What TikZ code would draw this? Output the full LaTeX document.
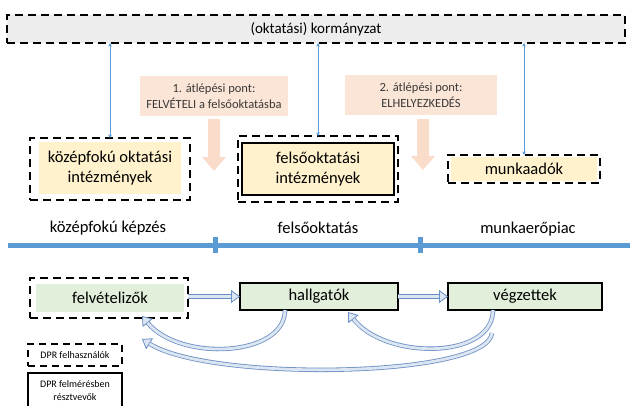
\documentclass[tikz,border=0pt]{standalone}
\usepackage{fontspec}
\setmainfont{Carlito}
\usetikzlibrary{arrows.meta,calc}

\definecolor{szurke}{HTML}{EDEDED}
\definecolor{sarga}{HTML}{FFF2CC}
\definecolor{zold}{HTML}{E2EFDA}
\definecolor{barack}{HTML}{FBE5D6}
\definecolor{barackny}{HTML}{F9DCCA}
\definecolor{szoveg}{HTML}{3A3A3A}
\definecolor{kek}{HTML}{5B9BD5}
\definecolor{nyilkek}{HTML}{6A8FC4}
\definecolor{nyilvil}{HTML}{DCE6F2}

\tikzset{
  dbox/.style={draw=black, line width=2.2pt, dash pattern=on 8pt off 5pt},
  sbox/.style={draw=black, line width=2pt},
  felirat/.style={font=\fontsize{16.5}{20}\selectfont, text=black},
  pont/.style={fill=barack, font=\fontsize{12.5}{15.5}\selectfont, text=szoveg,
    align=center, minimum height=40},
  vekony/.style={draw=kek, line width=0.6pt,
    {Stealth[length=3.5pt,width=3.5pt]}-{Stealth[length=3.5pt,width=3.5pt]}},
  ures/.style={draw=nyilkek, line width=4.4pt,
    -{Triangle[length=9pt,width=13pt,line width=0.8pt,fill=nyilvil]},
    postaction={draw=nyilvil, line width=2.8pt, -, shorten >=9pt}},
  lecke/.style={fill=barackny}
}

\begin{document}
\begin{tikzpicture}[x=1pt, y=-1pt,
    every node/.style={inner sep=0pt, outer sep=0pt}]
  \useasboundingbox (0,0) rectangle (630,405);

  % felso sav
  \node[dbox, fill=szurke, font=\fontsize{15}{18}\selectfont,
    minimum width=618, minimum height=28]
    (korm) at (316,29) {(oktatási) kormányzat};

  % atlepesi pontok
  \node[pont, minimum width=148] (pont1) at (214,96)
    {1. átlépési pont:\\FELVÉTELI a felsőoktatásba};
  \node[pont, minimum width=152] (pont2) at (421,95)
    {2. átlépési pont:\\ELHELYEZKEDÉS};
  \fill[lecke] ($(pont1.south)+(-6,3)$) -- ++(12,0) -- ++(0,38) -- ++(6,0)
    -- ++(-12,14) -- ++(-12,-14) -- ++(6,0) -- cycle;
  \fill[lecke] ($(pont2.south)+(-4,4)$) -- ++(12,0) -- ++(0,37) -- ++(6,0)
    -- ++(-12,14) -- ++(-12,-14) -- ++(6,0) -- cycle;

  % intezmenyek
  \node[fill=sarga, felirat, align=center, minimum width=142, minimum height=52]
    (kozepint) at (110,168) {középfokú oktatási\\intézmények};
  \node[dbox, minimum width=160, minimum height=62] (kozepkeret) at (110,169) {};
  \node[dbox, minimum width=160, minimum height=66] (felsokeret) at (318,169) {};
  \node[sbox, fill=sarga, felirat, align=center, minimum width=152, minimum height=52]
    (felsoint) at (318,169) {felsőoktatási\\intézmények};
  \node[fill=sarga, minimum width=146, minimum height=24] (munkafill) at (524,169) {};
  \node[dbox, felirat, minimum width=152, minimum height=28]
    (munka) at (524,169) {munkaadók};

  \draw[vekony] (kozepkeret.north) -- (kozepkeret.north |- korm.south);
  \draw[vekony] (felsokeret.north) -- (felsokeret.north |- korm.south);
  \draw[vekony] (munka.north) -- (munka.north |- korm.south);

  % idovonal
  \coordinate (ido0) at (8,245);
  \coordinate (ido1) at (630,245);
  \draw[kek, line width=5pt] (ido0) -- (ido1);
  \foreach \x in {215,420}
    \draw[kek, line width=5pt] (\x,237) -- (\x,253);
  \node[felirat] (kepzes) at (108,228) {középfokú képzés};
  \node[felirat] (felsook) at (318,228) {felsőoktatás};
  \node[felirat] (piac) at (528,229) {munkaerőpiac};

  % szereplok
  \node[fill=zold, felirat, minimum width=148, minimum height=28]
    (felv) at (110,298) {felvételizők};
  \node[dbox, minimum width=158, minimum height=40] (felvkeret) at (109,298) {};
  \node[sbox, fill=zold, felirat, minimum width=158, minimum height=27]
    (hallg) at (319,296.5) {hallgatók};
  \node[sbox, fill=zold, felirat, minimum width=154, minimum height=27]
    (vegz) at (525,296.5) {végzettek};

  \draw[ures] (felvkeret.east |- hallg.west) -- (hallg.west);
  \draw[ures] (hallg.east) -- (vegz.east -| vegz.west);
  \draw[ures] ($(hallg.south)+(-34,0)$) .. controls (285,357) and (180,362)
    .. ($(felvkeret.south)+(33,-2)$);
  \draw[ures] ($(vegz.south)+(-32,0)$) .. controls (493,360) and (385,360)
    .. ($(hallg.south)+(29,2)$);
  \coordinate (hosszu) at (492,333);
  \draw[ures] (hosszu) .. controls (488,378) and (210,382) .. (142,339);

  % jelmagyarazat
  \node[draw=black, line width=1.8pt, dash pattern=on 7pt off 5pt,
    font=\fontsize{10}{12}\selectfont, minimum width=94, minimum height=22]
    (jel1) at (75,355) {DPR felhasználók};
  \node[draw=black, line width=1.5pt, align=center,
    font=\fontsize{10}{13}\selectfont, minimum width=94, minimum height=36]
    (jel2) at (75,391) {DPR felmérésben\\résztvevők};
\end{tikzpicture}
\end{document}
